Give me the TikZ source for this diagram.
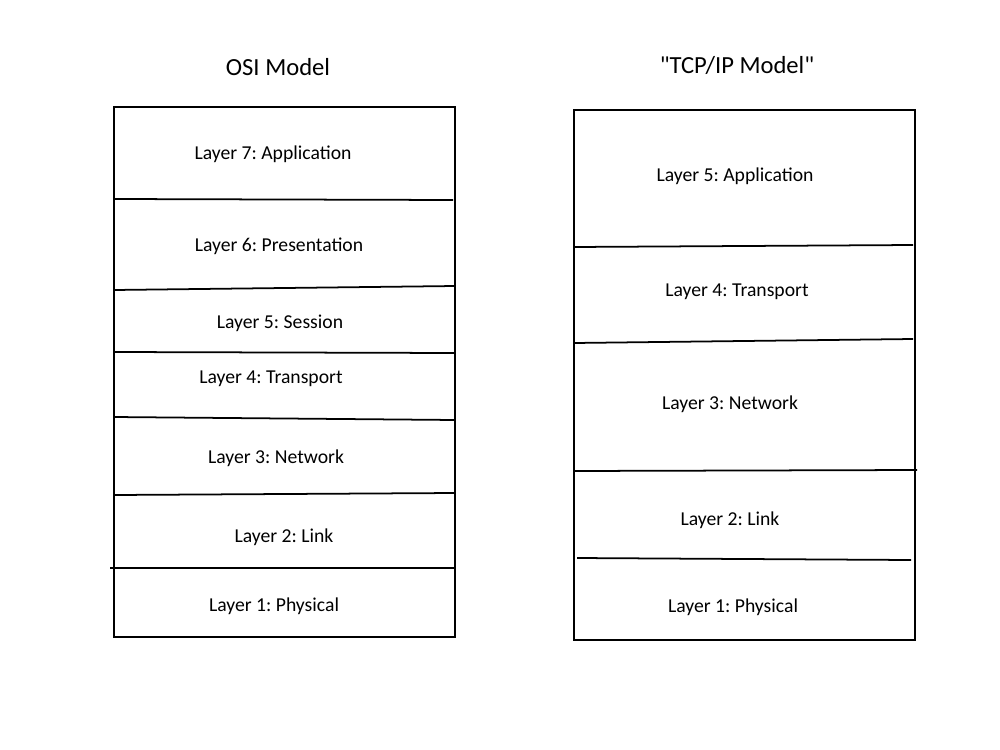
\documentclass[tikz,border=0pt]{standalone}
\usepackage{fontspec}
\setmainfont{Carlito}[Ligatures=TeXOff]
\frenchspacing
\tikzset{
	layer/.style={font=\fontsize{11.2}{13}\selectfont, inner sep=0pt},
	model/.style={font=\fontsize{14}{17}\selectfont, inner sep=0pt},
	rule/.style={line width=1pt}
}

\begin{document}
\begin{tikzpicture}[x=0.02cm, y=-0.02cm]
	\useasboundingbox (0,0) rectangle (1000,750);
	% titles
	\node[model] (osi) at (278,67) {OSI Model};
	\node[model] (tcpip) at (737,65) {"TCP/IP Model"};
	% OSI stack
	\draw[rule] (114,107) rectangle (455,637);
	\draw[rule] (114,199) -- (453,200);
	\draw[rule] (114,290) -- (455,286);
	\draw[rule] (114,352) -- (455,353);
	\draw[rule] (114,417) -- (455,420);
	\draw[rule] (114,495) -- (455,493);
	\draw[rule] (110,568) -- (455,568);
	\foreach \n/\x/\y/\t in {7/273/154/Application, 6/279/246/Presentation,
		5/280/323/Session, 4/271/379/Transport, 3/276/458/Network,
		2/284/537/Link, 1/274/606/Physical}
		\node[layer] (osi\n) at (\x,\y) {Layer \n: \t};
	% TCP/IP stack
	\draw[rule] (574,110) rectangle (915,640);
	\draw[rule] (574,247) -- (913,245);
	\draw[rule] (574,343) -- (913,339);
	\draw[rule] (574,471) -- (917,470);
	\draw[rule] (577,558) -- (911,560);
	\foreach \n/\x/\y/\t in {5/735/176/Application, 4/737/292/Transport,
		3/730/404/Network, 2/730/520/Link, 1/733/607/Physical}
		\node[layer] (tcp\n) at (\x,\y) {Layer \n: \t};
\end{tikzpicture}
\end{document}
